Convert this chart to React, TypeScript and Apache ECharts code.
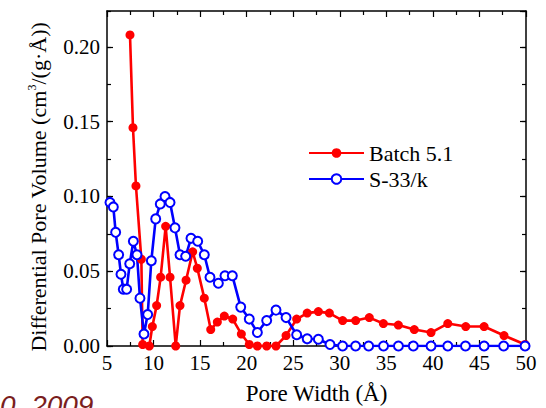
import React, { useEffect, useRef } from "react";
import * as echarts from "echarts";

const batchX = [7.47, 7.79, 8.11, 8.69, 8.83, 9.54, 9.87, 10.33, 10.76, 11.3, 11.77, 12.38, 12.84, 13.49, 14.2, 14.7, 15.45, 16.14, 16.85, 17.6, 18.5, 19.43, 20.28, 21.15, 22.15, 23.15, 24.23, 25.37, 26.5, 27.7, 28.88, 30.31, 31.71, 33.17, 34.68, 36.29, 38.0, 39.8, 41.6, 43.53, 45.5, 47.64, 49.9];
const batchY = [0.208, 0.146, 0.107, 0.058, 0.001, 0.0, 0.013, 0.027, 0.046, 0.08, 0.046, 0.0, 0.027, 0.044, 0.063, 0.052, 0.032, 0.011, 0.016, 0.02, 0.018, 0.008, 0.001, 0, 0, 0, 0.007, 0.018, 0.022, 0.023, 0.022, 0.017, 0.017, 0.019, 0.015, 0.014, 0.011, 0.009, 0.015, 0.013, 0.013, 0.007, 0.001];

const sX = [5.32, 5.68, 5.93, 6.25, 6.5, 6.75, 7.11, 7.44, 7.83, 8.22, 8.54, 8.97, 9.37, 9.76, 10.23, 10.72, 11.23, 11.77, 12.3, 12.84, 13.45, 14.02, 14.74, 15.45, 16.06, 16.96, 17.67, 18.46, 19.36, 20.28, 21.15, 22.15, 23.15, 24.23, 25.37, 26.5, 27.7, 28.95, 30.3, 31.7, 33.1, 34.7, 36.3, 37.9, 39.8, 41.6, 43.5, 45.5, 47.6, 49.9];
const sY = [0.096, 0.093, 0.076, 0.061, 0.048, 0.038, 0.038, 0.055, 0.07, 0.061, 0.032, 0.008, 0.021, 0.057, 0.085, 0.095, 0.1, 0.096, 0.079, 0.061, 0.06, 0.072, 0.07, 0.061, 0.046, 0.042, 0.047, 0.047, 0.026, 0.018, 0.009, 0.017, 0.024, 0.019, 0.0075, 0.0048, 0.0045, 0.001, 0, 0, 0, 0, 0, 0, 0, 0, 0, 0, 0, 0];

const seriesNames = ["Batch 5.1", "S-33/k"];
const xTitle = "Pore Width (Å)";
const yTitleParts = ["Differential Pore Volume (cm", "3", "/(g·Å))"];

const FONT = "Times New Roman";

export default function App() {
  const ref = useRef<HTMLDivElement>(null);
  useEffect(() => {
    document.body.style.margin = "0";
    const chart = echarts.init(ref.current!, null, { renderer: "svg" });
    const axisLine = { show: true, onZero: false, lineStyle: { color: "#000", width: 1.5 } };
    const majorTick = { show: true, inside: true, length: 6, lineStyle: { color: "#000", width: 1.2 } };
    const minorTickStyle = { show: true, inside: true, length: 4, lineStyle: { color: "#000", width: 1.2 } };
    const yBase = { type: "value", min: 0, max: 0.224, splitLine: { show: false } };
    chart.setOption({
      animation: false,
      grid: { left: 107, right: 20, top: 11, bottom: 62, outerBoundsMode: "none", containLabel: false },
      legend: {
        orient: "vertical",
        left: 303,
        top: 137,
        itemWidth: 55,
        itemHeight: 12,
        itemGap: 4,
        textStyle: { fontFamily: FONT, fontSize: 22, color: "#000" },
        data: seriesNames,
      },
      xAxis: [
        {
          type: "value", min: 5, max: 50, interval: 5,
          axisLine, axisTick: majorTick,
          minorTick: { ...minorTickStyle, splitNumber: 2 },
          splitLine: { show: false },
          axisLabel: { fontFamily: FONT, fontSize: 21, color: "#000", margin: 6 },
          name: xTitle, nameLocation: "middle", nameGap: 36,
          nameTextStyle: { fontFamily: FONT, fontSize: 23, color: "#000" },
        },
        {
          type: "value", min: 5, max: 50, interval: 5, position: "top",
          axisLine, axisTick: majorTick,
          minorTick: { ...minorTickStyle, splitNumber: 2 },
          splitLine: { show: false }, axisLabel: { show: false },
        },
      ],
      yAxis: [
        {
          ...yBase, interval: 0.05, position: "left",
          axisLine, axisTick: majorTick,
          axisLabel: {
            fontFamily: FONT, fontSize: 21, color: "#000", margin: 7, showMaxLabel: false,
            formatter: (v: number) => v.toFixed(2),
          },
        },
        {
          ...yBase, interval: 0.05, position: "right",
          axisLine, axisTick: majorTick, axisLabel: { show: false },
        },
        {
          ...yBase, interval: 0.025, position: "left",
          axisLine: { show: false }, axisTick: minorTickStyle, axisLabel: { show: false },
        },
        {
          ...yBase, interval: 0.025, position: "right",
          axisLine: { show: false }, axisTick: minorTickStyle, axisLabel: { show: false },
        },
      ],
      series: [
        {
          name: seriesNames[0], type: "line",
          data: batchX.map((x, i) => [x, batchY[i]]),
          symbol: "circle", symbolSize: 9,
          itemStyle: { color: "#ff0000" },
          lineStyle: { color: "#ff0000", width: 2.6 },
        },
        {
          name: seriesNames[1], type: "line",
          data: sX.map((x, i) => [x, sY[i]]),
          symbol: "emptyCircle", symbolSize: 9,
          itemStyle: { color: "#0000ff", borderWidth: 1.3 },
          lineStyle: { color: "#0000ff", width: 2.6 },
        },
      ],
      graphic: [
        {
          type: "text", x: 38, y: 187, rotation: Math.PI / 2,
          style: {
            text: `{n|${yTitleParts[0]}}{s|${yTitleParts[1]}}{n|${yTitleParts[2]}}`,
            align: "center", verticalAlign: "middle",
            fill: "#000",
            rich: {
              n: { fontFamily: FONT, fontSize: 22, fill: "#000", lineHeight: 24 },
              s: { fontFamily: FONT, fontSize: 12, fill: "#000", verticalAlign: "top", lineHeight: 24 },
            },
          },
        },
        {
          type: "text", left: 0, top: 391,
          style: { text: "0, 2009", font: "italic 28px 'Liberation Sans'", fill: "#7a1e1e" },
        },
      ],
    });
    return () => chart.dispose();
  }, []);
  return <div ref={ref} style={{ width: 546, height: 408 }} />;
}
